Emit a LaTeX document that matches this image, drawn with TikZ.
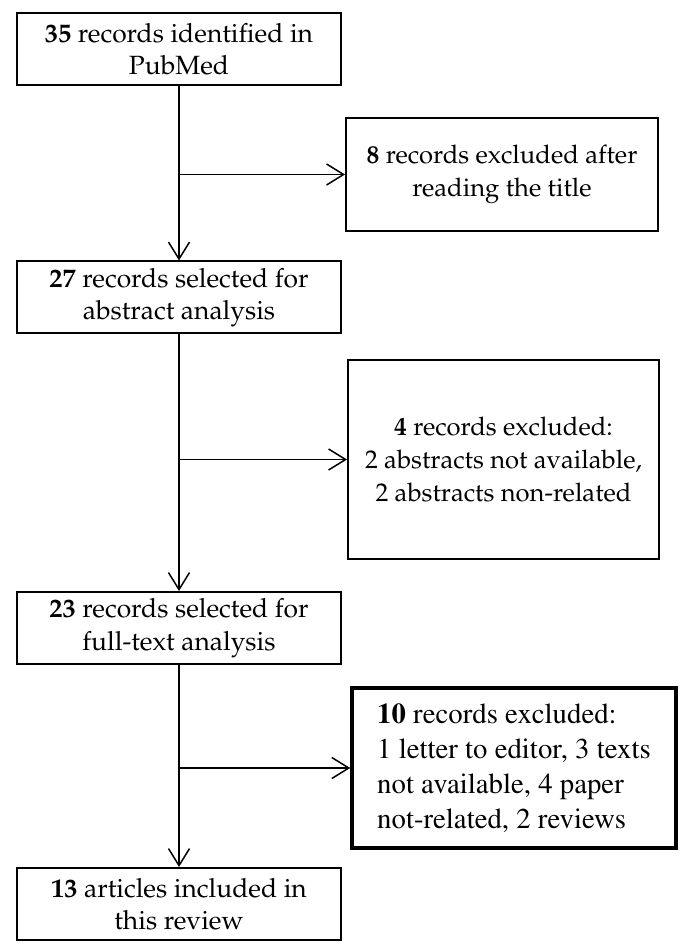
\documentclass[tikz,border=0pt]{standalone}
\usepackage[T1]{fontenc}
\usepackage{mathpazo}
\usetikzlibrary{arrows.meta}

\begin{document}
\begin{tikzpicture}[x=0.5pt,y=-0.5pt,
  stage/.style={draw=black,line width=1pt,minimum width=162pt,minimum height=36pt,align=center,inner sep=1pt,font=\fontsize{13.2}{16.2}\selectfont},
  excl/.style={draw=black,line width=1pt,align=center,inner sep=2pt,font=\fontsize{12.8}{16.5}\selectfont},
  flow/.style={line width=0.75pt,-{Straight Barb[length=8.5pt,width=10.5pt]}}
]
\useasboundingbox (0,0) rectangle (685,951);
% selection stages
\node[stage] (n35) at (179,49) {\textbf{35} records identified in\\PubMed};
\node[stage] (n27) at (179,297.5) {\textbf{27} records selected for\\abstract analysis};
\node[stage] (n23) at (179,628) {\textbf{23} records selected for\\full-text analysis};
\node[stage] (n13) at (179,904) {\textbf{13} articles included in\\this review};
% exclusions
\node[excl,minimum width=156pt,minimum height=56.5pt] (x8) at (502,174.5) {\textbf{8} records excluded after\\reading the title};
\node[excl,minimum width=155.5pt,minimum height=99.5pt] (x4) at (503.5,459.5) {\textbf{4} records excluded:\\2 abstracts not available,\\2 abstracts non-related};
\node[excl,line width=1.75pt,minimum width=162pt,minimum height=80pt,align=left,font=\fontfamily{ptm}\fontsize{14.4}{17.5}\selectfont] (x10) at (514,768) {\textbf{10} records excluded:\\1 letter to editor, 3 texts\\not available, 4 paper\\not-related, 2 reviews};
% arrows
\draw[flow] (n35) -- (n27);
\draw[flow] (n27) -- (n23);
\draw[flow] (n23) -- (n13);
\draw[flow] (n35.south |- x8) -- (x8);
\draw[flow] (n27.south |- x4) -- (x4);
\draw[flow] (n23.south |- x10) -- (x10);
\end{tikzpicture}
\end{document}
